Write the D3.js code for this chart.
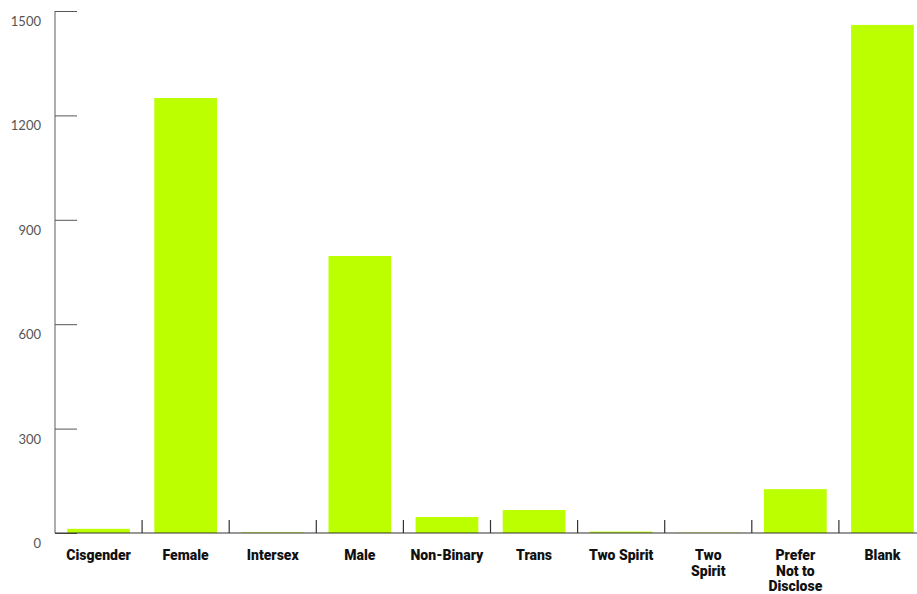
<!DOCTYPE html>
<html>
<head>
<meta charset="utf-8">
<script src="https://cdn.jsdelivr.net/npm/d3@7"></script>
<style>
  body { margin: 0; background: #fff; overflow: hidden; }
  svg { display: block; }
</style>
</head>
<body>
<div id="chart"></div>
<script>
// Daten
const categories = ["Cisgender", "Female", "Intersex", "Male", "Non-Binary", "Trans", "Two Spirit", "Two Spirit 2", "Prefer Not to Disclose", "Blank"];
const tickLabels = [["Cisgender"], ["Female"], ["Intersex"], ["Male"], ["Non-Binary"], ["Trans"], ["Two Spirit"], ["Two", "Spirit"], ["Prefer", "Not to", "Disclose"], ["Blank"]];
const counts = [12, 1250, 2, 796, 46, 66, 4, 1, 126, 1460];
const yTicks = [0, 300, 600, 900, 1200, 1500];

const width = 917, height = 594;
const margin = { top: 11, left: 55, bottom: 61 };
const plotRight = 926; // letzte Spalte ragt über den Rand hinaus

const svg = d3.select("#chart").append("svg")
    .attr("width", width)
    .attr("height", height);

const x = d3.scaleBand()
    .domain(categories)
    .range([margin.left, plotRight])
    .paddingInner(0.28)
    .paddingOuter(0.14);

const y = d3.scaleLinear()
    .domain([0, 1500])
    .range([height - margin.bottom, margin.top]);

// Balken
svg.selectAll("rect.bar")
    .data(categories)
    .enter()
    .append("rect")
    .attr("class", "bar")
    .attr("x", d => x(d))
    .attr("width", x.bandwidth())
    .attr("y", (d, i) => y(counts[i]))
    .attr("height", (d, i) => y(0) - y(counts[i]))
    .attr("fill", "#bbff00");

// Y-Achse
const yAxis = svg.append("g")
    .attr("transform", `translate(${margin.left},0)`)
    .call(d3.axisRight(y).tickValues(yTicks).tickSize(22).tickFormat(""));
yAxis.select(".domain").attr("stroke", "#777").attr("stroke-width", 1.2)
    .attr("d", `M0,${y(1500)}V${y(0)}`);
yAxis.selectAll(".tick line").attr("stroke", "#555");

svg.append("g").selectAll("text")
    .data(yTicks)
    .enter()
    .append("text")
    .attr("x", 41)
    .attr("y", d => y(d) + 15)
    .attr("text-anchor", "end")
    .attr("font-family", "Lato, sans-serif")
    .attr("font-size", "13px")
    .attr("fill", "#555")
    .text(d => d);

// X-Achse
svg.append("line")
    .attr("x1", margin.left)
    .attr("x2", width)
    .attr("y1", y(0))
    .attr("y2", y(0))
    .attr("stroke", "#333")
    .attr("stroke-width", 1.2);

// Trennstriche zwischen den Kategorien
svg.append("g").selectAll("line")
    .data(categories.slice(1))
    .enter()
    .append("line")
    .attr("x1", d => x(d) - x.step() * x.paddingInner() / 2)
    .attr("x2", d => x(d) - x.step() * x.paddingInner() / 2)
    .attr("y1", y(0))
    .attr("y2", y(0) - 13)
    .attr("stroke", "#333")
    .attr("stroke-width", 1.2);

// Kategorienbeschriftung
const labels = svg.append("g").selectAll("text")
    .data(categories)
    .enter()
    .append("text")
    .attr("x", d => x(d) + x.bandwidth() / 2)
    .attr("y", y(0) + 27)
    .attr("text-anchor", "middle")
    .attr("font-family", "Roboto, Lato, sans-serif")
    .attr("font-weight", 900)
    .attr("font-size", "14px")
    .attr("fill", "#111");

labels.each(function (d, i) {
    const t = d3.select(this);
    tickLabels[i].forEach((line, j) => {
        t.append("tspan")
            .attr("x", x(d) + x.bandwidth() / 2)
            .attr("dy", j === 0 ? 0 : 15.5)
            .text(line);
    });
});
</script>
</body>
</html>
